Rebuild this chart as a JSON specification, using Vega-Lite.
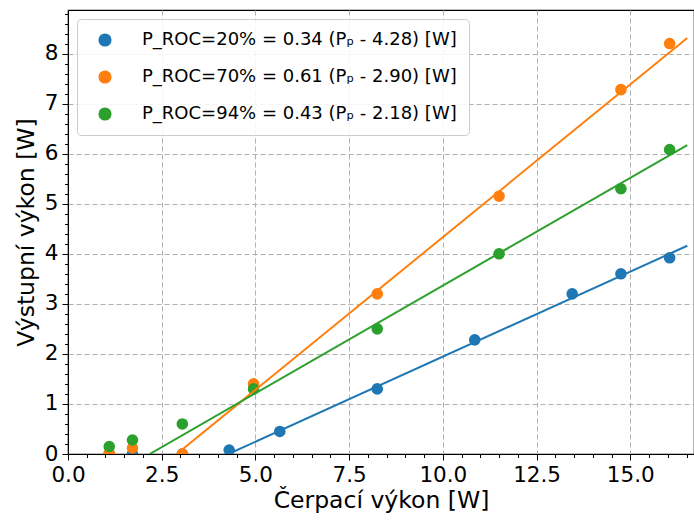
{
  "$schema": "https://vega.github.io/schema/vega-lite/v6.json",
  "width": 626,
  "height": 444,
  "autosize": {"type": "none"},
  "padding": {"left": 68, "top": 10, "right": 0, "bottom": 66},
  "background": "white",
  "config": {
    "font": "DejaVu Sans",
    "view": {"stroke": "black", "strokeWidth": 1.2},
    "axis": {
      "domainColor": "black",
      "tickColor": "black",
      "labelColor": "black",
      "titleColor": "black",
      "labelFont": "DejaVu Sans",
      "titleFont": "DejaVu Sans",
      "labelFontSize": 21.5,
      "titleFontSize": 23.5,
      "titleFontWeight": "normal",
      "gridColor": "#b0b0b0",
      "gridDash": [5, 3],
      "gridWidth": 1,
      "labelOverlap": false,
      "labelFlush": false
    }
  },
  "datasets": {
    "pts": [
      {"series": "20%", "x": 1.1, "y": 0.0},
      {"series": "20%", "x": 1.72, "y": 0.0},
      {"series": "20%", "x": 3.05, "y": 0.0},
      {"series": "20%", "x": 4.3, "y": 0.08},
      {"series": "20%", "x": 5.65, "y": 0.45},
      {"series": "20%", "x": 8.25, "y": 1.3},
      {"series": "20%", "x": 10.85, "y": 2.28},
      {"series": "20%", "x": 13.45, "y": 3.2},
      {"series": "20%", "x": 14.75, "y": 3.6},
      {"series": "20%", "x": 16.05, "y": 3.92},
      {"series": "70%", "x": 1.1, "y": 0.02},
      {"series": "70%", "x": 1.72, "y": 0.12},
      {"series": "70%", "x": 3.05, "y": 0.0},
      {"series": "70%", "x": 4.95, "y": 1.4},
      {"series": "70%", "x": 8.25, "y": 3.2},
      {"series": "70%", "x": 11.5, "y": 5.15},
      {"series": "70%", "x": 14.75, "y": 7.28},
      {"series": "70%", "x": 16.05, "y": 8.2},
      {"series": "94%", "x": 1.1, "y": 0.15},
      {"series": "94%", "x": 1.72, "y": 0.28},
      {"series": "94%", "x": 3.05, "y": 0.6},
      {"series": "94%", "x": 4.95, "y": 1.3},
      {"series": "94%", "x": 8.25, "y": 2.5},
      {"series": "94%", "x": 11.5, "y": 4.0},
      {"series": "94%", "x": 14.75, "y": 5.3},
      {"series": "94%", "x": 16.05, "y": 6.08}
    ],
    "fits": [
      {"series": "20%", "x": 4.28, "y": 0.0},
      {"series": "20%", "x": 16.52, "y": 4.16},
      {"series": "70%", "x": 2.9, "y": 0.0},
      {"series": "70%", "x": 16.52, "y": 8.31},
      {"series": "94%", "x": 2.18, "y": 0.0},
      {"series": "94%", "x": 16.52, "y": 6.17}
    ]
  },
  "encoding": {
    "x": {
      "field": "x", "type": "quantitative",
      "scale": {"domain": [0, 16.7], "nice": false, "zero": false},
      "axis": {
        "title": "Čerpací výkon [W]",
        "values": [0,0.5,1,1.5,2,2.5,3,3.5,4,4.5,5,5.5,6,6.5,7,7.5,8,8.5,9,9.5,10,10.5,11,11.5,12,12.5,13,13.5,14,14.5,15,15.5,16,16.5],
        "labelExpr": "abs(datum.value/2.5 - round(datum.value/2.5)) < 0.001 ? format(datum.value, '.1f') : ''",
        "tickSize": {"condition": {"test": "abs(datum.value/2.5 - round(datum.value/2.5)) < 0.001", "value": 6}, "value": 3.5},
        "gridOpacity": {"condition": {"test": "abs(datum.value/2.5 - round(datum.value/2.5)) < 0.001", "value": 1}, "value": 0},
        "grid": true,
        "labelPadding": 4,
        "titlePadding": 3
      }
    },
    "y": {
      "field": "y", "type": "quantitative",
      "scale": {"domain": [0, 8.87], "nice": false, "zero": false},
      "axis": {
        "title": "Výstupní výkon [W]",
        "values": [0,0.2,0.4,0.6,0.8,1,1.2,1.4,1.6,1.8,2,2.2,2.4,2.6,2.8,3,3.2,3.4,3.6,3.8,4,4.2,4.4,4.6,4.8,5,5.2,5.4,5.6,5.8,6,6.2,6.4,6.6,6.8,7,7.2,7.4,7.6,7.8,8,8.2,8.4,8.6,8.8],
        "labelExpr": "abs(datum.value - round(datum.value)) < 0.001 ? format(datum.value, 'd') : ''",
        "tickSize": {"condition": {"test": "abs(datum.value - round(datum.value)) < 0.001", "value": 6}, "value": 3.5},
        "gridOpacity": {"condition": {"test": "abs(datum.value - round(datum.value)) < 0.001", "value": 1}, "value": 0},
        "grid": true,
        "labelPadding": 4,
        "titlePadding": 6
      }
    }
  },
  "layer": [
    {
      "data": {"name": "pts"},
      "mark": {"type": "point", "filled": true, "opacity": 1, "size": 135, "shape": "circle", "clip": true},
      "encoding": {
        "color": {
          "field": "series", "type": "nominal",
          "scale": {"domain": ["20%", "70%", "94%"], "range": ["#1f77b4", "#ff7f0e", "#2ca02c"]},
          "legend": {
            "title": null,
            "orient": "top-left",
            "offset": 9,
            "padding": 12,
            "fillColor": "rgba(255,255,255,0.85)",
            "strokeColor": "#cccccc",
            "cornerRadius": 4,
            "symbolType": "circle",
            "symbolSize": 135,
            "symbolOffset": 7,
            "labelFont": "DejaVu Sans",
            "labelFontSize": 18,
            "labelColor": "black",
            "labelOffset": 28,
            "rowPadding": 19,
            "labelLimit": 420,
            "labelExpr": "datum.value == '20%' ? 'P_ROC=20% = 0.34 (Pₚ - 4.28) [W]' : datum.value == '70%' ? 'P_ROC=70% = 0.61 (Pₚ - 2.90) [W]' : 'P_ROC=94% = 0.43 (Pₚ - 2.18) [W]'"
          }
        }
      }
    },
    {
      "data": {"name": "fits"},
      "mark": {"type": "line", "strokeWidth": 2, "clip": true},
      "encoding": {
        "detail": {"field": "series"},
        "stroke": {
          "field": "series", "type": "nominal",
          "scale": {"domain": ["20%", "70%", "94%"], "range": ["#1f77b4", "#ff7f0e", "#2ca02c"]},
          "legend": null
        }
      }
    }
  ]
}
